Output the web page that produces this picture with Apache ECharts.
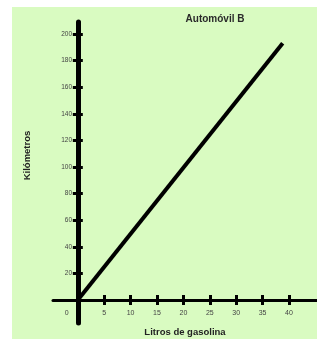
<!DOCTYPE html>
<html><head><meta charset="utf-8">
<script src="https://cdn.jsdelivr.net/npm/echarts@6/dist/echarts.min.js"></script>
<style>html,body{margin:0;padding:0;background:#fff}#c{width:317px;height:339px}</style>
</head><body><div id="c"></div>
<script>
const title = 'Automóvil B';
const xName = 'Litros de gasolina';
const yName = 'Kilómetros';
const litros = [0, 38.8];
const kilometros = [0, 193];
const xTicks = [5, 10, 15, 20, 25, 30, 35, 40];
const xLabels = [0, 5, 10, 15, 20, 25, 30, 35, 40];
const yTicks = [20, 40, 60, 80, 100, 120, 140, 160, 180, 200];

const chart = echarts.init(document.getElementById('c'), null, {renderer: 'canvas'});
const font = 'Liberation Sans, Arial, sans-serif';
const xMin = -4.7, xMax = 45.3, yMin = -17.3, yMax = 209;
chart.setOption({
  backgroundColor: '#ffffff',
  animation: false,
  graphic: [{type: 'rect', shape: {x: 12, y: 7, width: 305, height: 332}, style: {fill: '#d9fbc1'}, z: -10, silent: true}],
  title: {text: title, left: 210, top: 9, textAlign: 'center',
    textStyle: {fontFamily: font, fontSize: 10, fontWeight: 'bold', color: '#2a2a2a'}},
  grid: {left: 53, right: 0, top: 22, bottom: 16, containLabel: false, outerBoundsMode: 'none'},
  xAxis: [{
    type: 'value', min: xMin, max: xMax, position: 'bottom',
    axisLine: {show: true, onZero: true, onZeroAxisIndex: 0, lineStyle: {color: '#000', width: 3}},
    axisTick: {show: true, customValues: xTicks, length: 5, lineStyle: {color: '#000', width: 3}},
    axisLabel: {customValues: xLabels, margin: -13, fontFamily: font, fontSize: 7, color: '#444',
      formatter: v => v === 0 ? '{z|0}' : String(v),
      rich: {z: {padding: [0, 22, 0, 0], fontFamily: font, fontSize: 7, color: '#444'}}},
    splitLine: {show: false},
    name: xName, nameLocation: 'middle', nameGap: 4, nameMoveOverlap: false,
    nameTextStyle: {fontFamily: font, fontSize: 9.5, fontWeight: 'bold', color: '#222'}
  }, {
    type: 'value', min: xMin, max: xMax, position: 'bottom',
    axisLine: {show: false, onZero: true, onZeroAxisIndex: 0},
    axisTick: {show: true, inside: true, customValues: xTicks, length: 5, lineStyle: {color: '#000', width: 3}},
    axisLabel: {show: false}, splitLine: {show: false}
  }],
  yAxis: [{
    type: 'value', min: yMin, max: yMax, position: 'left',
    axisLine: {show: true, onZero: true, onZeroAxisIndex: 0, lineStyle: {color: '#000', width: 5}},
    axisTick: {show: true, customValues: yTicks, length: 5, lineStyle: {color: '#000', width: 3}},
    axisLabel: {customValues: yTicks, margin: -19, fontFamily: font, fontSize: 6.5, color: '#444'},
    splitLine: {show: false},
    name: yName, nameLocation: 'middle', nameGap: 21, nameRotate: 90, nameMoveOverlap: false,
    nameTextStyle: {fontFamily: font, fontSize: 9.5, fontWeight: 'bold', color: '#222', padding: [0, 0, 0, 34]}
  }, {
    type: 'value', min: yMin, max: yMax, position: 'left',
    axisLine: {show: false, onZero: true, onZeroAxisIndex: 0},
    axisTick: {show: true, inside: true, customValues: yTicks, length: 5, lineStyle: {color: '#000', width: 3}},
    axisLabel: {show: false}, splitLine: {show: false}
  }],
  series: [{
    type: 'line', xAxisIndex: 0, yAxisIndex: 0,
    data: litros.map((x, i) => [x, kilometros[i]]),
    showSymbol: false, lineStyle: {color: '#000', width: 4}
  }]
});
</script></body></html>
